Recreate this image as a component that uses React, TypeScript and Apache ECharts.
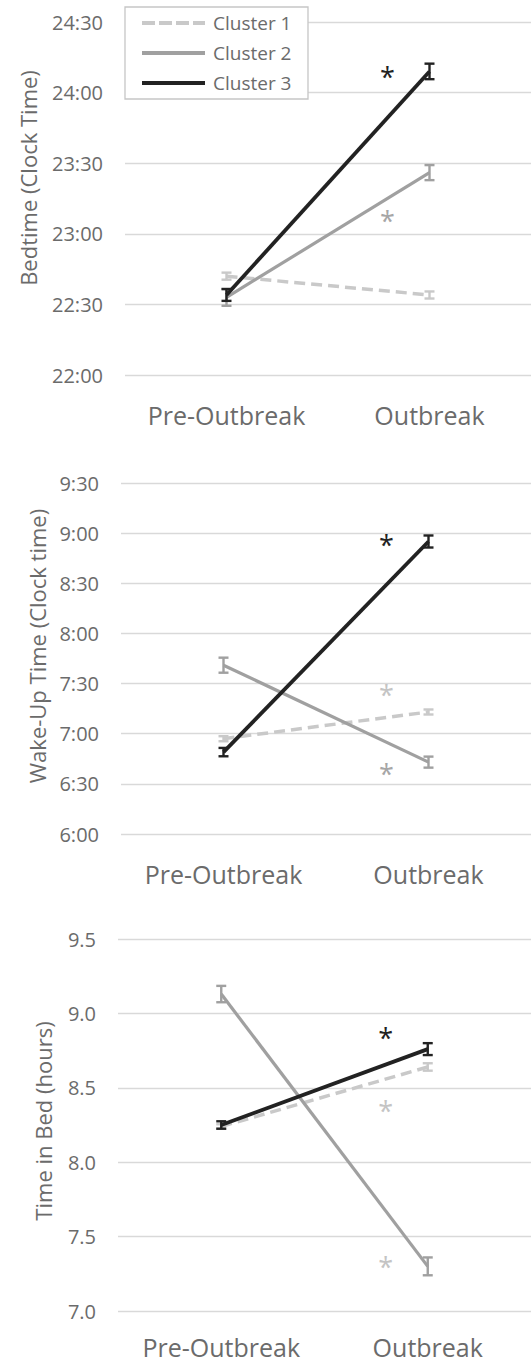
import React, { useEffect, useRef } from "react";
import * as echarts from "echarts";

// ---------- data ----------
const categories = ["Pre-Outbreak", "Outbreak"];
const clusterNames = ["Cluster 1", "Cluster 2", "Cluster 3"];

// Bedtime, minutes after midnight of the previous day (22:00 = 1320, 24:30 = 1470)
const bedtimeTicks = { min: 1320, max: 1470, interval: 30 };
const bedC1 = [1362, 1354];
const bedC2 = [1353, 1406];
const bedC3 = [1354, 1449];
const bedErrC1 = [1.5, 1.5];
const bedErrC2 = [3.6, 3.2];
const bedErrC3 = [2.5, 3.3];
const bedStars = [
  { cluster: 3, value: 1448 },
  { cluster: 2, value: 1387 },
];

// Wake-up time, minutes after midnight (6:00 = 360, 9:30 = 570)
const wakeTicks = { min: 360, max: 570, interval: 30 };
const wakeC1 = [417, 433];
const wakeC2 = [461, 403];
const wakeC3 = [409, 535];
const wakeErrC1 = [1.5, 1.5];
const wakeErrC2 = [4.5, 3.3];
const wakeErrC3 = [2.5, 3.6];
const wakeStars = [
  { cluster: 3, value: 535 },
  { cluster: 1, value: 445 },
  { cluster: 2, value: 398 },
];

// Time in bed, hours
const tibTicks = { min: 7.0, max: 9.5, interval: 0.5 };
const tibC1 = [8.24, 8.64];
const tibC2 = [9.13, 7.3];
const tibC3 = [8.25, 8.76];
const tibErrC1 = [0.015, 0.025];
const tibErrC2 = [0.055, 0.06];
const tibErrC3 = [0.025, 0.04];
const tibStars = [
  { cluster: 3, value: 8.86 },
  { cluster: 1, value: 8.37 },
  { cluster: 1, value: 7.32 },
];

const axisTitles = ["Bedtime (Clock Time)", "Wake-Up Time (Clock time)", "Time in Bed (hours)"];

// ---------- styles ----------
const FONT = "'Open Sans', 'Noto Sans', sans-serif";
const TEXT = "#6b6b6b";
const GRIDLINE = "#d9d9d9";
const colors = ["#c9c9c9", "#a0a0a0", "#222222"];
const starColors = ["#c4c4c4", "#a6a6a6", "#222222"];
const widths = [3.5, 3.2, 3.8];
const dashPattern = [11, 6];

const grids = [
  { left: 125, top: 22, width: 406, height: 353 },
  { left: 121, top: 483, width: 410, height: 351 },
  { left: 118, top: 939, width: 413, height: 372 },
];
const catLabelMargins = [27, 27, 23];
const titlePos = [
  [28, 178],
  [37, 646],
  [43, 1121],
];
// legend box: x, y, w, h ; rows
const legendBox = { x: 125, y: 7, w: 183, h: 92 };
const legendRows = [23, 53, 83];
const legendLineX = [142, 205];
const legendTextX = 213;

const clockFmt = (v: number) => {
  const h = Math.floor(v / 60);
  const m = Math.round(v - h * 60);
  return `${h}:${m < 10 ? "0" + m : m}`;
};

function errorSeries(gi: number, ci: number, vals: number[], errs: number[]) {
  const color = colors[ci];
  return {
    type: "custom",
    xAxisIndex: gi,
    yAxisIndex: gi,
    z: 3 + ci,
    silent: true,
    data: vals.map((v, i) => [i, v - errs[i], v + errs[i]]),
    encode: { x: 0, y: [1, 2] },
    renderItem: (params: any, api: any) => {
      const idx = api.value(0);
      const lo = api.coord([idx, api.value(1)]);
      const hi = api.coord([idx, api.value(2)]);
      const w = 5;
      const st = { stroke: color, lineWidth: 2.4 };
      return {
        type: "group",
        children: [
          { type: "line", shape: { x1: lo[0], y1: lo[1], x2: hi[0], y2: hi[1] }, style: st },
          { type: "line", shape: { x1: lo[0] - w, y1: lo[1], x2: lo[0] + w, y2: lo[1] }, style: st },
          { type: "line", shape: { x1: hi[0] - w, y1: hi[1], x2: hi[0] + w, y2: hi[1] }, style: st },
        ],
      };
    },
  };
}

function lineSeries(gi: number, ci: number, vals: number[]) {
  return {
    type: "line",
    name: clusterNames[ci],
    xAxisIndex: gi,
    yAxisIndex: gi,
    z: 3 + ci,
    symbol: "none",
    data: vals,
    lineStyle: {
      color: colors[ci],
      width: widths[ci],
      type: ci === 0 ? dashPattern : "solid",
    },
    itemStyle: { color: colors[ci] },
  };
}

function starSeries(gi: number, stars: { cluster: number; value: number }[]) {
  return {
    type: "custom",
    xAxisIndex: gi,
    yAxisIndex: gi,
    z: 10,
    silent: true,
    data: stars.map((s) => [1, s.value, s.cluster]),
    encode: { x: 0, y: 1 },
    renderItem: (params: any, api: any) => {
      const p = api.coord([api.value(0), api.value(1)]);
      const c = starColors[api.value(2) - 1];
      return {
        type: "text",
        x: p[0] - 42,
        y: p[1] + 3,
        style: {
          text: "*",
          fill: c,
          font: `27px ${FONT}`,
          align: "center",
          verticalAlign: "middle",
        },
      };
    },
  };
}

function panelSeries(gi: number, c1: number[], c2: number[], c3: number[], e1: number[], e2: number[], e3: number[], stars: any[]) {
  return [
    lineSeries(gi, 0, c1),
    errorSeries(gi, 0, c1, e1),
    lineSeries(gi, 1, c2),
    errorSeries(gi, 1, c2, e2),
    lineSeries(gi, 2, c3),
    errorSeries(gi, 2, c3, e3),
    starSeries(gi, stars),
  ];
}

export default function App() {
  const ref = useRef<HTMLDivElement>(null);

  useEffect(() => {
    if (!ref.current) return;
    const chart = echarts.init(ref.current, undefined, { renderer: "svg" });
    const ticks = [bedtimeTicks, wakeTicks, tibTicks];
    const fmts = [clockFmt, clockFmt, (v: number) => v.toFixed(1)];

    const legendGraphics: any[] = [
      {
        type: "rect",
        shape: { x: legendBox.x, y: legendBox.y, width: legendBox.w, height: legendBox.h },
        style: { fill: "#ffffff", stroke: "#c6c6c6", lineWidth: 1.3 },
        z: 100,
      },
    ];
    clusterNames.forEach((name, i) => {
      legendGraphics.push({
        type: "line",
        shape: { x1: legendLineX[0], y1: legendRows[i], x2: legendLineX[1], y2: legendRows[i] },
        style: {
          stroke: colors[i],
          lineWidth: 4,
          lineDash: i === 0 ? [13, 4] : null,
        },
        z: 101,
      });
      legendGraphics.push({
        type: "text",
        x: legendTextX,
        y: legendRows[i],
        style: {
          text: name,
          fill: TEXT,
          font: `19px ${FONT}`,
          align: "left",
          verticalAlign: "middle",
        },
        z: 101,
      });
    });

    const option: any = {
      animation: false,
      backgroundColor: "#ffffff",
      textStyle: { fontFamily: FONT },
      grid: grids.map((g) => ({ ...g, containLabel: false })),
      xAxis: grids.map((g, i) => ({
        type: "category",
        gridIndex: i,
        data: categories,
        boundaryGap: true,
        axisLine: { show: false },
        axisTick: { show: false },
        axisLabel: {
          interval: 0,
          color: TEXT,
          fontSize: 25,
          fontFamily: FONT,
          margin: catLabelMargins[i],
          lineHeight: 25,
        },
      })),
      yAxis: ticks.map((t, i) => ({
        type: "value",
        gridIndex: i,
        min: t.min,
        max: t.max,
        interval: t.interval,
        axisLine: { show: false },
        axisTick: { show: false },
        splitLine: { show: true, lineStyle: { color: GRIDLINE, width: 1.3 } },
        axisLabel: {
          color: TEXT,
          fontSize: 20,
          fontFamily: FONT,
          margin: 22,
          formatter: fmts[i],
        },
      })),
      graphic: [
        ...axisTitles.map((t, i) => ({
          type: "text",
          x: titlePos[i][0],
          y: titlePos[i][1],
          rotation: Math.PI / 2,
          style: {
            text: t,
            fill: TEXT,
            font: `22px ${FONT}`,
            align: "center",
            verticalAlign: "middle",
          },
        })),
        ...legendGraphics,
      ],
      series: [
        ...panelSeries(0, bedC1, bedC2, bedC3, bedErrC1, bedErrC2, bedErrC3, bedStars),
        ...panelSeries(1, wakeC1, wakeC2, wakeC3, wakeErrC1, wakeErrC2, wakeErrC3, wakeStars),
        ...panelSeries(2, tibC1, tibC2, tibC3, tibErrC1, tibErrC2, tibErrC3, tibStars),
      ],
    };
    chart.setOption(option);
    return () => chart.dispose();
  }, []);

  return (
    <div
      ref={ref}
      style={{ position: "absolute", left: 0, top: 0, width: 531, height: 1362, background: "#fff" }}
    />
  );
}
